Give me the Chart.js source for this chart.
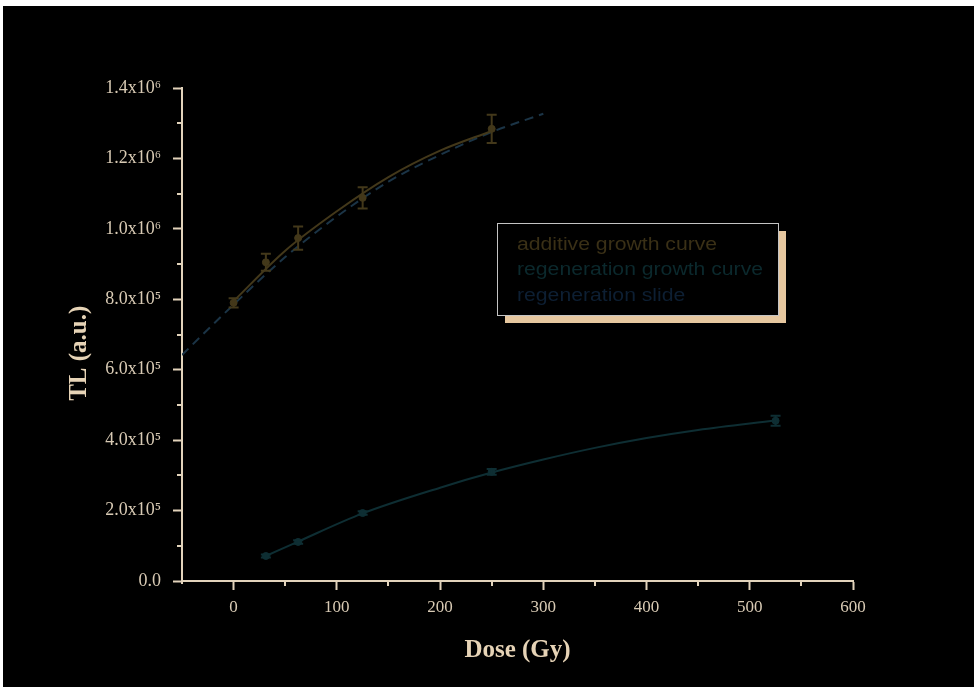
<!DOCTYPE html>
<html>
<head>
<meta charset="utf-8">
<title>TL growth curves</title>
<script src="https://cdn.jsdelivr.net/npm/chart.js@4.4.0/dist/chart.umd.min.js"></script>
<style>
    body { margin: 0; background: #ffffff; }
    #frame { position: absolute; left: 3px; top: 6px; width: 971px; height: 681px; background: #000000; }
</style>
</head>
<body>
<div id="frame"><canvas id="myChart" width="971" height="681"></canvas></div>
<script>
// measured points (Gy, a.u.)
var doses = [0, 31.25, 62.5, 125, 250];
var additiveTL = [790000, 905000, 974000, 1088000, 1284000];
var additiveErr = [13000, 24000, 33000, 30000, 40000];

var regenDoses = [31.25, 62.5, 125, 250, 525];
var regenTL = [71000, 111000, 193000, 310000, 455000];
var regenErr = [4000, 5000, 5000, 8000, 14000];

// fitted curves
var additiveFitDose = [0, 50, 100, 150, 200, 250];
var additiveFitTL = [795000, 938000, 1050000, 1147000, 1222000, 1278000];

var regenFitDose = [31.25, 62.5, 125, 200, 250, 300, 350, 400, 450, 525];
var regenFitTL = [71000, 112000, 192000, 265000, 308000, 345000, 378000, 406000, 429000, 456000];

var slideDose = [-50, 0, 50, 100, 150, 200, 250, 300];
var slideTL = [642000, 785000, 920000, 1035000, 1134000, 1210000, 1275000, 1327000];

var xTicks = [0, 100, 200, 300, 400, 500, 600];
var xMinor = [50, 150, 250, 350, 450, 550];
var yTicks = [0, 200000, 400000, 600000, 800000, 1000000, 1200000, 1400000];
var yMinor = [100000, 300000, 500000, 700000, 900000, 1100000, 1300000];
var yTickLabels = ["0.0", "2.0x10\u2075", "4.0x10\u2075", "6.0x10\u2075", "8.0x10\u2075", "1.0x10\u2076", "1.2x10\u2076", "1.4x10\u2076"];
var legendLabels = ["additive growth curve", "regeneration growth curve", "regeneration slide"];

var axisColor = "#e2d3bb";
var labelColor = "#d8cab4";
var additiveColor = "#43381a";
var regenColor = "#0e2e33";
var slideColor = "#1b3446";

function pts(xs, ys) {
    var out = [];
    for (var i = 0; i < xs.length; i++) {
        out.push({x: xs[i], y: ys[i]});
    }
    return out;
}

var minorTicks = {
    id: "minorTicks",
    afterDraw: function (chart) {
        var ctx = chart.ctx;
        var xs = chart.scales.x, ys = chart.scales.y;
        ctx.save();
        ctx.strokeStyle = axisColor;
        ctx.lineWidth = 2;
        ctx.beginPath();
        xMinor.forEach(v => {
            var px = Math.round(xs.getPixelForValue(v));
            ctx.moveTo(px, ys.bottom);
            ctx.lineTo(px, ys.bottom + 5);
        });
        yMinor.forEach(v => {
            var py = Math.round(ys.getPixelForValue(v));
            ctx.moveTo(xs.left, py);
            ctx.lineTo(xs.left - 5, py);
        });
        // y axis runs a little past the x axis
        ctx.moveTo(xs.left, ys.bottom);
        ctx.lineTo(xs.left, ys.bottom + 3);
        ctx.stroke();
        ctx.restore();
    }
};

var errorBars = {
    id: "errorBars",
    afterDatasetsDraw: function (chart) {
        var ctx = chart.ctx;
        var xs = chart.scales.x, ys = chart.scales.y;
        ctx.save();
        chart.data.datasets.forEach(ds => {
            if (!ds.err) return;
            ctx.strokeStyle = ds.borderColor;
            ctx.lineWidth = 2;
            ds.data.forEach((p, i) => {
                var px = xs.getPixelForValue(p.x);
                var top = ys.getPixelForValue(p.y + ds.err[i]);
                var bot = ys.getPixelForValue(p.y - ds.err[i]);
                ctx.beginPath();
                ctx.moveTo(px, top);
                ctx.lineTo(px, bot);
                ctx.moveTo(px - 5, top);
                ctx.lineTo(px + 5, top);
                ctx.moveTo(px - 5, bot);
                ctx.lineTo(px + 5, bot);
                ctx.stroke();
            });
        });
        ctx.restore();
    }
};

var boxLegend = {
    id: "boxLegend",
    afterDraw: function (chart) {
        var ctx = chart.ctx;
        var colors = ["#3a3016", "#0b292d", "#0d1f33"];
        ctx.save();
        ctx.fillStyle = "#e6c79f";
        ctx.fillRect(502, 225, 281, 92);
        ctx.fillStyle = "#000000";
        ctx.fillRect(494, 217, 281, 92);
        ctx.strokeStyle = "#c4c4c4";
        ctx.lineWidth = 1;
        ctx.strokeRect(494.5, 217.5, 281, 92);
        ctx.font = "17.5px 'Liberation Sans', Arial, sans-serif";
        ctx.textBaseline = "middle";
        legendLabels.forEach((t, i) => {
            ctx.save();
            ctx.translate(514, 239 + i * 25.5);
            ctx.scale(1.21, 1);
            ctx.fillStyle = colors[i];
            ctx.fillText(t, 0, 0);
            ctx.restore();
        });
        ctx.restore();
    }
};

var canvas = document.getElementById("myChart");
var mychart = new Chart(canvas, {
    type: "scatter",
    data: {
        datasets: [{
                label: legendLabels[0],
                data: pts(doses, additiveTL),
                err: additiveErr,
                borderColor: additiveColor,
                backgroundColor: additiveColor,
                pointRadius: 3.5,
                showLine: false
            }, {
                label: "additive fit",
                data: pts(additiveFitDose, additiveFitTL),
                borderColor: additiveColor,
                borderWidth: 2,
                pointRadius: 0,
                showLine: true,
                cubicInterpolationMode: "monotone"
            }, {
                label: legendLabels[1],
                data: pts(regenDoses, regenTL),
                err: regenErr,
                borderColor: regenColor,
                backgroundColor: regenColor,
                pointRadius: 3.5,
                showLine: false
            }, {
                label: "regeneration fit",
                data: pts(regenFitDose, regenFitTL),
                borderColor: regenColor,
                borderWidth: 2,
                pointRadius: 0,
                showLine: true,
                cubicInterpolationMode: "monotone"
            }, {
                label: legendLabels[2],
                data: pts(slideDose, slideTL),
                borderColor: slideColor,
                borderWidth: 2,
                borderDash: [9, 6],
                pointRadius: 0,
                showLine: true,
                cubicInterpolationMode: "monotone"
            }
        ]
    },
    options: {
        responsive: false,
        animation: false,
        layout: {padding: {left: 0, top: 82, right: 121, bottom: 0}},
        plugins: {
            legend: {display: false},
            tooltip: {enabled: false}
        },
        scales: {
            x: {
                type: "linear",
                min: -50,
                max: 600,
                afterBuildTicks: function (s) {
                    s.ticks = xTicks.map(v => ({value: v}));
                },
                afterFit: function (s) {
                    s.height = 106;
                },
                ticks: {
                    color: labelColor,
                    padding: 7,
                    maxRotation: 0,
                    autoSkip: false,
                    font: {family: "'Liberation Serif', 'Times New Roman', serif", size: 17},
                    callback: function (v) {
                        return v;
                    }
                },
                grid: {drawOnChartArea: false, tickLength: 9, tickWidth: 2, tickColor: axisColor},
                border: {color: axisColor, width: 2},
                title: {
                    display: true,
                    text: "Dose (Gy)",
                    color: "#e6d3b6",
                    padding: {top: 0, bottom: 21},
                    font: {family: "'Liberation Serif', 'Times New Roman', serif", size: 25, weight: "bold"}
                }
            },
            y: {
                min: 0,
                max: 1400000,
                afterBuildTicks: function (s) {
                    s.ticks = yTicks.map(v => ({value: v}));
                },
                afterFit: function (s) {
                    s.width = 179;
                },
                ticks: {
                    color: labelColor,
                    padding: 12,
                    autoSkip: false,
                    font: {family: "'Liberation Serif', 'Times New Roman', serif", size: 18},
                    callback: function (v, i) {
                        return yTickLabels[i];
                    }
                },
                grid: {drawOnChartArea: false, tickLength: 9, tickWidth: 2, tickColor: axisColor},
                border: {color: axisColor, width: 2},
                title: {
                    display: true,
                    text: "TL (a.u.)\u00a0\u00a0\u00a0\u00a0\u00a0\u00a0",
                    color: "#e6d3b6",
                    padding: {top: 62, bottom: 0},
                    font: {family: "'Liberation Serif', 'Times New Roman', serif", size: 25, weight: "bold"}
                }
            }
        }
    },
    plugins: [minorTicks, errorBars, boxLegend]
});
</script>
</body>
</html>
